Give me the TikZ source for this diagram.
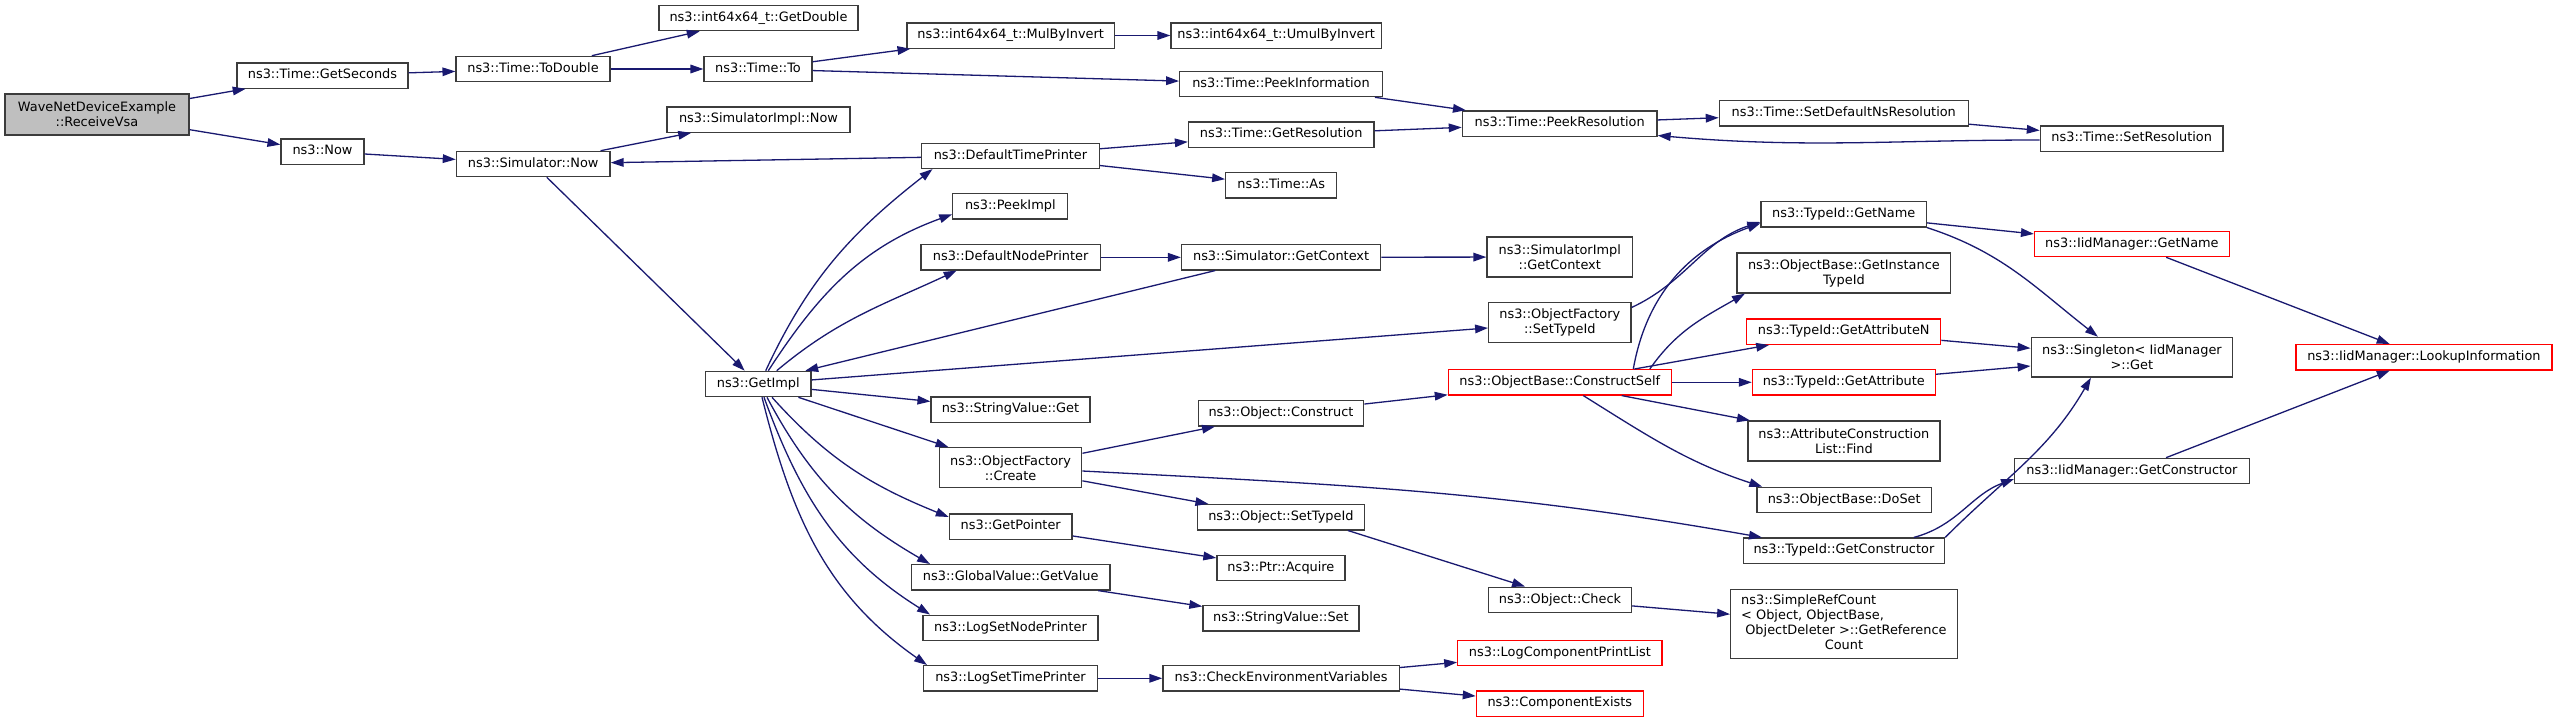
\documentclass[tikz,border=0pt]{standalone}
\usepackage{fontspec}
\newfontfamily\dvs{DejaVu Sans}
\usetikzlibrary{arrows.meta}
\definecolor{edgeblue}{HTML}{191970}
\definecolor{bordergray}{HTML}{3C3C3C}
\definecolor{rootgray}{HTML}{BFBFBF}
\tikzset{
  x=1pt,y=1pt,
  nb/.style={draw=bordergray, line width=1.3pt, fill=white, inner xsep=0pt, inner ysep=0pt,
    minimum height=25.3pt, align=center, font={\dvs\fontsize{12.9pt}{15pt}\selectfont}},
  nd/.style={nb, text height=9.4pt, text depth=2.9pt},
  rd/.style={nd, draw=red},
  nm/.style={nb},
  ed/.style={draw=edgeblue, line width=1.3pt, -{Triangle[length=12.9pt,width=8.6pt]}},
}
\begin{document}
\begin{tikzpicture}
\fill[white] (0,0) rectangle (2557,-723);
\useasboundingbox (0,0) rectangle (2557,-723);
% rank 0-3
\node[nm, fill=rootgray, minimum width=184pt, minimum height=41pt] (root) at (97,-114.5) {WaveNetDeviceExample\\::ReceiveVsa};
\node[nd, minimum width=171pt] (gsec) at (322.5,-75.5) {ns3::Time::GetSeconds};
\node[nd, minimum width=83pt] (now) at (322.5,-151.5) {ns3::Now};
\node[nd, minimum width=154pt] (todbl) at (533,-69) {ns3::Time::ToDouble};
\node[nd, minimum width=153.7pt] (snow) at (533.2,-164) {ns3::Simulator::Now};
\node[nd, minimum width=199pt] (gdbl) at (758.5,-18) {ns3::int64x64\_t::GetDouble};
\node[nd, minimum width=108pt] (to) at (758,-69) {ns3::Time::To};
\node[nd, minimum width=183pt] (sinow) at (758.5,-119.5) {ns3::SimulatorImpl::Now};
\node[nd, minimum width=105.3pt] (gimpl) at (758.3,-384) {ns3::GetImpl};
% rank 4
\node[nd, minimum width=207.7pt] (mbi) at (1010.7,-35.5) {ns3::int64x64\_t::MulByInvert};
\node[nd, minimum width=177.8pt] (dtp) at (1010.5,-155.8) {ns3::DefaultTimePrinter};
\node[nd, minimum width=115pt] (pki) at (1010.3,-206.3) {ns3::PeekImpl};
\node[nd, minimum width=179.5pt] (dnp) at (1010.6,-257.3) {ns3::DefaultNodePrinter};
\node[nd, minimum width=158.9pt] (svg) at (1010.5,-409.5) {ns3::StringValue::Get};
\node[nm, minimum width=142.4pt, minimum height=40pt] (cr) at (1010.6,-467.7) {ns3::ObjectFactory\\::Create};
\node[nd, minimum width=122.7pt] (gp) at (1010.7,-526.5) {ns3::GetPointer};
\node[nd, minimum width=198.5pt] (ggv) at (1010.7,-577.3) {ns3::GlobalValue::GetValue};
\node[nd, minimum width=175pt] (lsnp) at (1010.5,-627.8) {ns3::LogSetNodePrinter};
\node[nd, minimum width=173.6pt] (lstp) at (1010.5,-678.3) {ns3::LogSetTimePrinter};
% rank 5
\node[nd, minimum width=210.4pt] (umbi) at (1276.2,-35.5) {ns3::int64x64\_t::UmulByInvert};
\node[nd, minimum width=202.7pt] (pinfo) at (1281,-84) {ns3::Time::PeekInformation};
\node[nd, minimum width=185.5pt] (gres) at (1281.2,-134.5) {ns3::Time::GetResolution};
\node[nd, minimum width=111.1pt] (tas) at (1281.2,-185.3) {ns3::Time::As};
\node[nd, minimum width=199.2pt] (sgc) at (1281.1,-257.3) {ns3::Simulator::GetContext};
\node[nd, minimum width=165.5pt] (ocon) at (1281,-413.3) {ns3::Object::Construct};
\node[nd, minimum width=166.6pt] (ost) at (1280.9,-517.2) {ns3::Object::SetTypeId};
\node[nd, minimum width=128pt] (pacq) at (1280.9,-567.8) {ns3::Ptr::Acquire};
\node[nd, minimum width=156pt] (svs) at (1280.9,-618.3) {ns3::StringValue::Set};
\node[nd, minimum width=236.4pt] (cev) at (1281.1,-678.3) {ns3::CheckEnvironmentVariables};
% rank 6
\node[nd, minimum width=194.7pt] (pres) at (1559.7,-123.5) {ns3::Time::PeekResolution};
\node[nm, minimum width=145.7pt, minimum height=40pt] (sigc) at (1559.8,-257) {ns3::SimulatorImpl\\::GetContext};
\node[nm, minimum width=142.3pt, minimum height=39.6pt] (ofst) at (1559.8,-322.5) {ns3::ObjectFactory\\::SetTypeId};
\node[rd, minimum width=223pt] (cs) at (1559.8,-382.3) {ns3::ObjectBase::ConstructSelf};
\node[nd, minimum width=142.7pt] (och) at (1560,-599.8) {ns3::Object::Check};
\node[rd, minimum width=204.3pt] (lcpl) at (1559.9,-653) {ns3::LogComponentPrintList};
\node[rd, minimum width=166.9pt] (cex) at (1559.8,-703.7) {ns3::ComponentExists};
% rank 7
\node[nd, minimum width=249pt] (sdns) at (1843.8,-113.2) {ns3::Time::SetDefaultNsResolution};
\node[nd, minimum width=165.4pt] (tgn) at (1843.7,-214.3) {ns3::TypeId::GetName};
\node[nm, minimum width=213.7pt, minimum height=40pt] (gitid) at (1843.9,-273) {ns3::ObjectBase::GetInstance\\TypeId};
\node[rd, minimum width=193.9pt] (gan) at (1843.7,-331.7) {ns3::TypeId::GetAttributeN};
\node[rd, minimum width=182.9pt] (gat) at (1843.8,-382.3) {ns3::TypeId::GetAttribute};
\node[nm, minimum width=192.1pt, minimum height=40pt] (fnd) at (1843.9,-441) {ns3::AttributeConstruction\\List::Find};
\node[nd, minimum width=174.5pt] (dos) at (1844.2,-500) {ns3::ObjectBase::DoSet};
\node[nd, minimum width=201.3pt] (tgc) at (1843.9,-550.7) {ns3::TypeId::GetConstructor};
\node[nm, minimum width=226.5pt, minimum height=69pt] (src) at (1843.9,-623.8) {\begin{tabular}{@{}l@{}}ns3::SimpleRefCount\\< Object, ObjectBase,\\\ ObjectDeleter >::GetReference\\\multicolumn{1}{@{}c@{}}{Count}\end{tabular}};
% rank 8-9
\node[nd, minimum width=182.7pt] (sres) at (2131.7,-138.5) {ns3::Time::SetResolution};
\node[rd, minimum width=194.8pt] (ign) at (2131.9,-244) {ns3::IidManager::GetName};
\node[nm, minimum width=201.5pt, minimum height=39.7pt] (sget) at (2131.9,-357.2) {ns3::Singleton< IidManager\\ >::Get};
\node[nd, minimum width=234.5pt] (igc) at (2131.9,-471) {ns3::IidManager::GetConstructor};
\node[rd, minimum width=256pt] (look) at (2423.9,-357.3) {ns3::IidManager::LookupInformation};
% edges
\draw[ed] (root) -- (gsec);
\draw[ed] (root) -- (now);
\draw[ed] (gsec) -- (todbl);
\draw[ed] (todbl) -- (gdbl);
\draw[ed] (todbl) -- (to);
\draw[ed] (to) -- (mbi);
\draw[ed] (to) -- (pinfo);
\draw[ed] (mbi) -- (umbi);
\draw[ed] (pinfo) -- (pres);
\draw[ed] (gres) -- (pres);
\draw[ed] (pres) -- (sdns);
\draw[ed] (sdns) -- (sres);
\draw[ed] ([yshift=-1.5]sres.west) to[out=180,in=-5] ([yshift=-12]pres.east);
\draw[ed] (now) -- (snow);
\draw[ed] (snow) -- (sinow);
\draw[ed] (snow) -- (gimpl);
\draw[ed] (dtp) -- (snow);
\draw[ed] (dtp) -- (gres);
\draw[ed] (dtp) -- (tas);
\draw[ed] ([xshift=7.4]gimpl.north) to[out=65,in=218] ([xshift=-78]dtp.south);
\draw[ed] ([xshift=10]gimpl.north) to[out=57,in=200] ([yshift=-8]pki.west);
\draw[ed] ([xshift=18.4]gimpl.north) to[out=40,in=205] ([xshift=-54]dnp.south);
\draw[ed] (dnp) -- (sgc);
\draw[ed] (sgc) -- (sigc);
\draw[ed] ([xshift=-66]sgc.south) -- ([xshift=47]gimpl.north);
\draw[ed] (gimpl) -- (ofst);
\draw[ed] ([yshift=15]ofst.east) to[out=25,in=198] ([yshift=-7.7]tgn.west);
\draw[ed] (gimpl) -- (svg);
\draw[ed] (gimpl) -- (cr);
\draw[ed] ([xshift=13.7]gimpl.south) to[out=-48,in=158] ([yshift=9.5]gp.west);
\draw[ed] ([xshift=8.7]gimpl.south) to[out=-62,in=150] ([xshift=-80.7]ggv.north);
\draw[ed] ([xshift=5.7]gimpl.south) to[out=-70,in=148] ([xshift=-80.5]lsnp.north);
\draw[ed] ([xshift=3.7]gimpl.south) to[out=-76,in=145] ([xshift=-83.5]lstp.north);
\draw[ed] (cr) -- (ocon);
\draw[ed] ([yshift=-3.3]cr.east) to[out=-3,in=170] ([xshift=-82]tgc.north);
\draw[ed] (cr) -- (ost);
\draw[ed] (ocon) -- (cs);
\draw[ed] ([xshift=73.5]cs.north) to[out=80,in=200] ([yshift=-9]tgn.west);
\draw[ed] ([xshift=90]cs.north) to[out=55,in=210] ([xshift=-99]gitid.south);
\draw[ed] (cs) -- (gan);
\draw[ed] (cs) -- (gat);
\draw[ed] ([xshift=62]cs.south) -- ([xshift=-94]fnd.north);
\draw[ed] ([xshift=23.5]cs.south) to[out=-32,in=162] ([xshift=-82]dos.north);
\draw[ed] (tgn) -- (ign);
\draw[ed] (tgn.south east) to[out=-18,in=142] ([xshift=-34]sget.north);
\draw[ed] (gan) -- (sget);
\draw[ed] (gat) -- (sget);
\draw[ed] (tgc.north east) to[out=45,in=-120] ([xshift=-41]sget.south);
\draw[ed] ([xshift=70]tgc.north) to[out=15,in=200] ([yshift=-8]igc.west);
\draw[ed] (ign) -- (look);
\draw[ed] (igc) -- (look);
\draw[ed] ([xshift=67]ost.south) -- ([xshift=-35]och.north);
\draw[ed] (och) -- (src);
\draw[ed] (gp) -- (pacq);
\draw[ed] (ggv) -- (svs);
\draw[ed] (lstp) -- (cev);
\draw[ed] (cev) -- (lcpl);
\draw[ed] (cev) -- (cex);
\end{tikzpicture}
\end{document}
